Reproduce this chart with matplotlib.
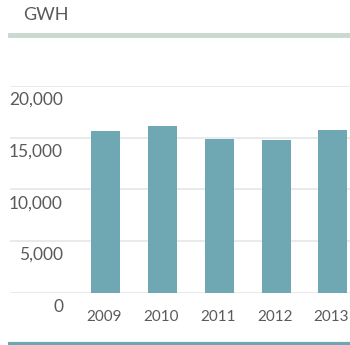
import matplotlib
matplotlib.use("Agg")
import matplotlib.pyplot as plt
from matplotlib.transforms import blended_transform_factory, offset_copy
from matplotlib.lines import Line2D

plt.rcParams['font.family'] = ['Lato', 'DejaVu Sans']

# annual generation, GWh
years = ["2009", "2010", "2011", "2012", "2013"]
gwh = [15600, 16150, 14900, 14800, 15750]
yticks = [0, 5000, 10000, 15000, 20000]
ytick_labels = ["0", "5,000", "10,000", "15,000", "20,000"]

bar_color = "#6fa8b3"
text_color = "#5a5a5a"
grid_color = "#e4e8e8"

W, H = 350, 345
fig = plt.figure(figsize=(W / 100, H / 100), dpi=100)

# axes spans the plotting band between the zero line and the 20,000 line
ax = fig.add_axes([10 / W, (H - 292.7) / H, 340 / W, (292.7 - 86) / H])
ax.set_ylim(0, 20000)
ax.set_xlim(-1.68, 4.30)
ax.axis("off")

for v in yticks:
    ax.axhline(v, color=grid_color, lw=1.2, zorder=0)

ax.bar(range(len(years)), gwh, width=0.51, color=bar_color, zorder=2)

# y labels sit just below their gridline
trans = blended_transform_factory(fig.transFigure, ax.transData)
trans = offset_copy(trans, fig=fig, x=0, y=-14, units="dots")
for v, lab in zip(yticks, ytick_labels):
    ax.text(63 / W, v, lab, transform=trans, ha="right", va="center",
            fontsize=12.5, color=text_color)

xtrans = offset_copy(ax.transData, fig=fig, x=-1.5, y=-24, units="dots")
for i, yr in enumerate(years):
    ax.text(i, 0, yr, transform=xtrans, ha="center", va="center",
            fontsize=11, color=text_color)

fig.text(23 / W, 1 - 15 / H, "GWH", ha="left", va="center",
         fontsize=13, color=text_color)

fig.add_artist(Line2D([10 / W, 1], [1 - 34.5 / H] * 2, color="#c9d9cf",
                      lw=3.5, transform=fig.transFigure))
fig.add_artist(Line2D([10 / W, 1], [1 - 344 / H] * 2, color="#6aa8b4",
                      lw=3, transform=fig.transFigure))

fig.savefig("out.png", dpi=100)
